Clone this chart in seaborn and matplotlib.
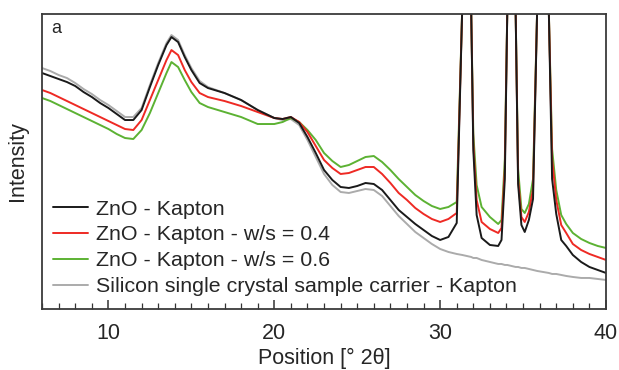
import numpy as np
import pandas as pd
import matplotlib
matplotlib.use("Agg")
import matplotlib.pyplot as plt
from matplotlib.ticker import MultipleLocator
from matplotlib.lines import Line2D
import seaborn as sns

# 2theta positions (deg)
two_theta = [6.0, 6.5, 7.0, 7.5, 8.0, 8.5, 9.0, 9.5, 10.0, 10.5, 11.0, 11.5, 12.0, 12.5,
             13.0, 13.5, 13.8, 14.2, 14.6, 15.0, 15.5, 16.0, 17.0, 18.0, 19.0, 20.0,
             20.5, 21.0, 21.5, 22.0, 22.5, 23.0, 23.5, 24.0, 24.5, 25.0, 25.5, 26.0,
             26.5, 27.0, 27.5, 28.0, 28.5, 29.0, 29.5, 30.0, 30.5, 31.0, 31.33, 31.6,
             31.87, 32.0, 32.2, 32.5, 33.0, 33.5, 33.7, 33.9, 34.05, 34.3, 34.55, 34.7,
             34.9, 35.1, 35.35, 35.6, 35.85, 36.2, 36.55, 36.75, 37.0, 37.3, 37.6, 38.0,
             38.5, 39.0, 39.5, 40.0]

# intensities (arbitrary units)
zno_kapton = [236, 233, 230, 227, 223, 217, 212, 206, 201, 195, 189, 189, 199, 222,
              244, 264, 272, 267, 252, 239, 226, 221, 216, 209, 199, 191,
              190, 192, 186, 172, 156, 139, 129, 122, 121, 123, 126, 125,
              119, 109, 99, 92, 85, 79, 73, 69, 72, 86, 300, 2000,
              300, 159, 94, 71, 64, 63, 69, 130, 300, 2000, 300, 125,
              84, 77, 89, 110, 300, 2000, 300, 130, 95, 69, 63, 54,
              47, 42, 39, 36]

zno_ws04 = [219, 216, 212, 208, 204, 200, 196, 192, 188, 184, 180, 179, 189, 209,
            229, 249, 259, 254, 239, 227, 216, 212, 208, 203, 197, 191,
            190, 192, 187, 177, 163, 149, 141, 135, 136, 139, 142, 142,
            135, 126, 116, 109, 101, 95, 90, 87, 90, 96, 300, 2000,
            300, 165, 109, 87, 80, 76, 81, 140, 300, 2000, 300, 130,
            92, 87, 97, 120, 300, 2000, 300, 150, 109, 84, 76, 65,
            59, 55, 52, 49]

zno_ws06 = [211, 208, 204, 200, 196, 192, 188, 184, 180, 175, 171, 170, 179, 196,
            216, 236, 247, 242, 229, 217, 206, 202, 197, 192, 185, 185,
            187, 191, 187, 179, 169, 156, 148, 142, 144, 148, 152, 153,
            147, 139, 130, 122, 114, 108, 103, 100, 102, 107, 300, 2000,
            300, 175, 124, 102, 92, 85, 89, 150, 300, 2000, 300, 140,
            100, 96, 105, 130, 300, 2000, 300, 160, 119, 94, 85, 76,
            70, 66, 63, 61]

si_carrier = [241, 238, 234, 231, 226, 220, 215, 209, 204, 198, 192, 192, 201, 224,
              246, 266, 274, 269, 254, 241, 228, 222, 216, 209, 199, 191,
              189, 190, 184, 169, 152, 135, 124, 117, 116, 118, 120, 119,
              113, 103, 93, 85, 77, 71, 65, 60, 57, 55, 54, 53,
              52, 51, 51, 49, 47, 45, 45, 44, 44, 43, 42, 42,
              41, 41, 40, 39, 38, 37, 36, 35, 35, 34, 33, 32,
              31, 31, 30, 29]

labels = ["ZnO - Kapton", "ZnO - Kapton - w/s = 0.4", "ZnO - Kapton - w/s = 0.6",
          "Silicon single crystal sample carrier - Kapton"]
colors = ["#1a1a1a", "#ee2a24", "#5cb233", "#ababab"]

df = pd.DataFrame({"pos": two_theta, labels[0]: zno_kapton, labels[1]: zno_ws04,
                   labels[2]: zno_ws06, labels[3]: si_carrier})

sns.set_style("white")
plt.rcParams["font.family"] = ["Liberation Sans", "DejaVu Sans"]

fig = plt.figure(figsize=(6.19, 3.70), dpi=100)
ax = fig.add_axes([0.068, 0.165, 0.911, 0.797])

# draw back to front: gray, green, red, black
for i in [3, 2, 1, 0]:
    sns.lineplot(data=df, x="pos", y=labels[i], color=colors[i], lw=1.4, ax=ax)

ax.set_xlim(6, 40)
ax.set_ylim(0, 295)
ax.set_yticks([])
ax.xaxis.set_major_locator(MultipleLocator(10))
ax.xaxis.set_minor_locator(MultipleLocator(1))
ax.tick_params(axis="x", which="major", direction="in", length=6.5, width=1.1,
               color="#333333", labelsize=15.5, pad=10, bottom=True)
ax.tick_params(axis="x", which="minor", direction="in", length=4, width=0.9,
               color="#333333", bottom=True)
for s in ax.spines.values():
    s.set_color("#3a3a3a")
    s.set_linewidth(1.3)

ax.set_xlabel("Position [° 2θ]", fontsize=15.5, labelpad=3)
ax.set_ylabel("Intensity", fontsize=15.5, labelpad=10)
ax.text(0.016, 0.98, "a", transform=ax.transAxes, fontsize=13, va="top", ha="left")

handles = [Line2D([], [], color=c, lw=1.4) for c in colors]
ax.legend(handles, labels, loc="upper left", bbox_to_anchor=(0.005, 0.40),
          frameon=False, fontsize=15.4, handlelength=1.6, handletextpad=0.4,
          labelspacing=0.32, borderaxespad=0)

fig.savefig("out.png", dpi=100)
